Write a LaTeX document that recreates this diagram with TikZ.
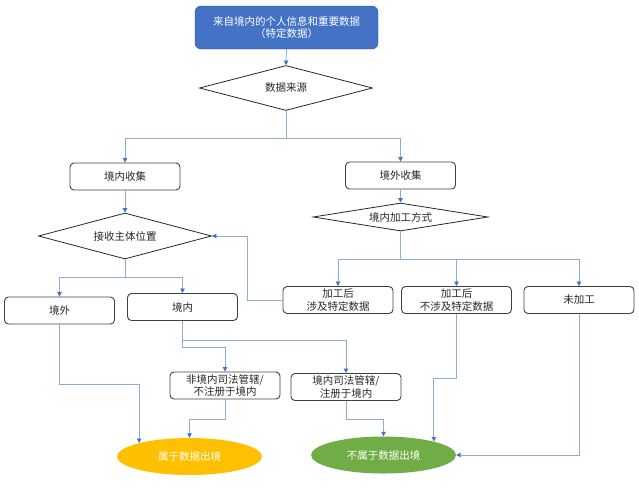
\documentclass[tikz,border=0pt]{standalone}
\usepackage{fontspec}
\setmainfont{Noto Sans CJK SC}
\usetikzlibrary{shapes.geometric,arrows.meta}

\definecolor{headblue}{HTML}{4472C4}
\definecolor{headedge}{HTML}{2F528F}
\definecolor{linkblue}{HTML}{8FAADC}
\definecolor{boxgray}{HTML}{404040}
\definecolor{exportyellow}{HTML}{FFC000}
\definecolor{localgreen}{HTML}{70AD47}

\begin{document}
\begin{tikzpicture}[x=1pt,y=1pt,yscale=-1,xscale=1,
		every node/.style={font=\fontsize{10.5pt}{12.5pt}\selectfont, text=black!85, align=center},
		stepbox/.style={draw=boxgray, line width=0.9pt, rounded corners=4pt, minimum width=110pt, minimum height=27pt, inner sep=1pt},
		decision/.style={diamond, aspect=6, draw=black!85, line width=0.8pt, inner sep=0pt},
		outcome/.style={ellipse, draw=none, minimum width=145pt, minimum height=37pt, text=white},
		link/.style={draw=linkblue, line width=0.8pt, -{Triangle[length=4.5pt,width=4.5pt,color=headblue]}}]
		% Set diagram frame: 639 wide, 488 high
		\useasboundingbox (0,0) rectangle (639,488);

		% The blue box on top
		\node[draw=headedge, fill=headblue, text=white, rounded corners=6pt, minimum width=183pt, minimum height=43pt, inner sep=1pt] (origin) at (286.5,27.5) {来自境内的个人信息和重要数据\\（特定数据）};

		% The three diamonds
		\node[decision, minimum width=173pt, minimum height=45pt] (source) at (286,88) {数据来源};
		\node[decision, minimum width=173pt, minimum height=46pt] (receiver) at (125,236) {接收主体位置};
		\node[decision, minimum width=175pt, minimum height=28pt] (processing) at (400.5,217) {境内加工方式};

		% The boxes, left branch
		\node[stepbox] (inCollect) at (125,176.5) {境内收集};
		\node[stepbox] (abroad) at (59.5,310.5) {境外};
		\node[stepbox] (domestic) at (182.5,307) {境内};
		\node[stepbox] (foreignJur) at (225,385.5) {非境内司法管辖/\\不注册于境内};
		\node[stepbox] (localJur) at (346,387) {境内司法管辖/\\注册于境内};

		% The boxes, right branch
		\node[stepbox] (outCollect) at (400.5,175.5) {境外收集};
		\node[stepbox] (procSpecial) at (338,300) {加工后\\涉及特定数据};
		\node[stepbox] (procNormal) at (456.5,300) {加工后\\不涉及特定数据};
		\node[stepbox] (raw) at (579,300) {未加工};

		% The two results at the bottom
		\node[outcome, fill=exportyellow] (isExport) at (189.5,456.5) {属于数据出境};
		\node[outcome, fill=localgreen] (notExport) at (383.5,455) {不属于数据出境};

		% Links from the top down to both collections
		\draw[link] (origin.south) -- (source.north);
		\draw[link] (source.south) -- ++(0,27) -| (inCollect.north);
		\draw[link] (source.south) -- ++(0,27) -| (outCollect.north);
		\draw[link] (inCollect.south) -- (receiver.north);
		\draw[link] (outCollect.south) -- (processing.north);

		% Links below the processing diamond
		\draw[link] (processing.south) -- ++(0,28) -| (procSpecial.north);
		\draw[link] (processing.south) -- ++(0,28) -| (procNormal.north);
		\draw[link] (processing.south) -- ++(0,28) -| (raw.north);
		\draw[link] (procSpecial.west) -- ++(-35,0) |- (receiver.east);

		% Links below the receiver diamond
		\draw[link] (receiver.south) -- ++(0,18) -| (abroad.north);
		\draw[link] (receiver.south) -- ++(0,18) -| (domestic.north);
		\draw[link] (domestic.south) -- ++(0,19) -| (localJur.north);
		\draw[link] (domestic.south) -- ++(0,26) -| (foreignJur.north);

		% Links into the results
		\draw[link] (abroad.south) -- ++(0,60) -| (isExport.165);
		\draw[link] (foreignJur.south) -- ++(0,20) -| (isExport.north);
		\draw[link] (localJur.south) -- ++(0,18) -| (notExport.north);
		\draw[link] (procNormal.south) -- ++(0,64) -| (notExport.15);
		\draw[link] (raw.south) |- (notExport.east);
	\end{tikzpicture}
\end{document}
